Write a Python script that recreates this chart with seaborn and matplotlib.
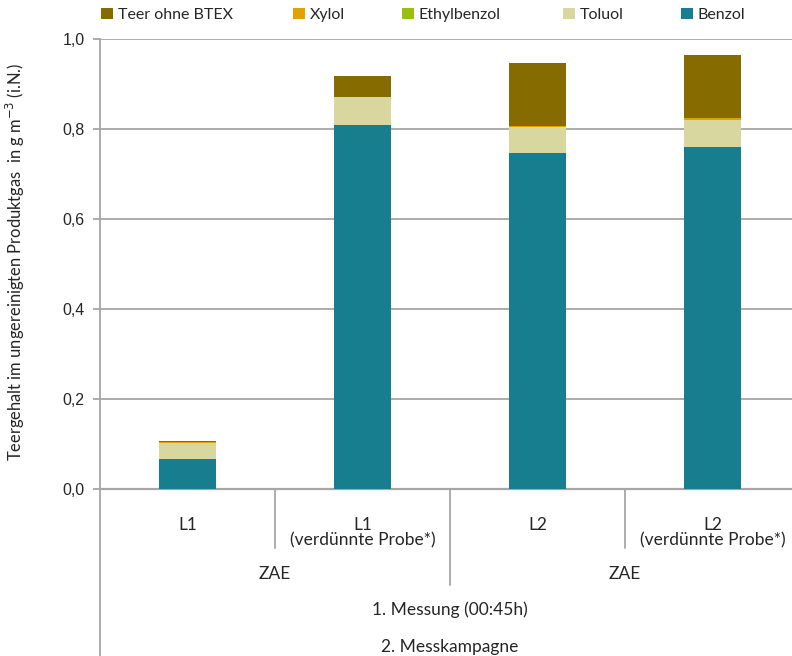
import matplotlib
matplotlib.use("Agg")
import matplotlib.pyplot as plt
import matplotlib.transforms as mtransforms
from matplotlib.patches import Patch
import seaborn as sns
import pandas as pd
import numpy as np

categories = ["L1", "L1\n(verdünnte Probe*)", "L2", "L2\n(verdünnte Probe*)"]
benzol = [0.066, 0.809, 0.747, 0.761]
toluol = [0.037, 0.061, 0.057, 0.060]
ethylbenzol = [0.000, 0.000, 0.000, 0.000]
xylol = [0.001, 0.001, 0.003, 0.003]
teer_ohne_btex = [0.003, 0.046, 0.139, 0.140]

series_names = ["Teer ohne BTEX", "Xylol", "Ethylbenzol", "Toluol", "Benzol"]
colors = {"Teer ohne BTEX": "#866C00", "Xylol": "#E3A200", "Ethylbenzol": "#99C010",
          "Toluol": "#D8D7A0", "Benzol": "#177E8F"}
# left edge of each legend marker, in pixels
legend_x = [101, 293, 402, 563, 681]

sns.set_theme(style="white")
plt.rcParams['font.family'] = ['Liberation Sans', 'DejaVu Sans']
cal = ["Lato", "DejaVu Sans"]

df = pd.DataFrame({"cat": categories, "Benzol": benzol, "Toluol": toluol,
                   "Ethylbenzol": ethylbenzol, "Xylol": xylol,
                   "Teer ohne BTEX": teer_ohne_btex})
# cumulative tops, bottom layer first
stack = ["Benzol", "Toluol", "Ethylbenzol", "Xylol", "Teer ohne BTEX"]
cum = df[stack].cumsum(axis=1)

fig = plt.figure(figsize=(7.92, 6.56), dpi=100)
ax = fig.add_axes([100 / 792, 1 - 489 / 656, 700 / 792, 450 / 656])

# draw from the top of the stack downwards so each layer covers the next
for name in reversed(stack):
    sns.barplot(x=df["cat"], y=cum[name], color=colors[name], width=0.33,
                saturation=1, ax=ax, zorder=3, edgecolor="none")

ax.set_xlim(-0.5, 3.5)
ax.set_ylim(0, 1.0)
ax.set_yticks(np.arange(0, 1.01, 0.2))
ax.set_yticklabels([f"{v:.1f}".replace(".", ",") for v in np.arange(0, 1.01, 0.2)],
                   fontsize=11.5)
ax.yaxis.grid(True, color="#A6A6A6", linewidth=1.3, zorder=0)
ax.set_axisbelow(True)
for s in ["top", "right"]:
    ax.spines[s].set_visible(False)
ax.spines["left"].set_color("#A6A6A6")
ax.spines["left"].set_linewidth(1.3)
ax.spines["bottom"].set_color("#A6A6A6")
ax.spines["bottom"].set_linewidth(1.6)
ax.tick_params(axis="y", left=True, length=5, color="#A6A6A6", width=1.3, pad=6)
ax.tick_params(axis="x", bottom=False, pad=14)
ax.set_xticks(range(4))
ax.set_xticklabels(categories, fontsize=12.5, family=cal, linespacing=1.0)
ax.set_xlabel("")
ax.set_ylabel("Teergehalt im ungereinigten Produktgas  in g m$^{-3}$ (i.N.)",
              fontsize=11.9, family=cal)
ax.yaxis.set_label_coords(-73 / 700, (489 - 262) / 450)

# multi-level category axis
trans = mtransforms.blended_transform_factory(ax.transData, ax.transAxes)
line_kw = dict(color="#A6A6A6", linewidth=1.3, transform=trans, clip_on=False)
ax.plot([0.5, 0.5], [0, -0.131], **line_kw)
ax.plot([2.5, 2.5], [0, -0.131], **line_kw)
ax.plot([1.5, 1.5], [0, -0.213], **line_kw)
ax.plot([-0.5, -0.5], [0, -0.40], **line_kw)

txt_kw = dict(transform=trans, ha="center", va="center", fontsize=12.5, family=cal)
ax.text(0.5, -0.189, "ZAE", **txt_kw)
ax.text(2.5, -0.189, "ZAE", **txt_kw)
ax.text(1.5, -0.268, "1. Messung (00:45h)", **txt_kw)
ax.text(1.5, -0.351, "2. Messkampagne", **txt_kw)

for name, x in zip(series_names, legend_x):
    fig.legend([Patch(facecolor=colors[name], edgecolor="none")], [name],
               loc="center left", bbox_to_anchor=(x / 792, 1 - 15 / 656),
               frameon=False, borderpad=0, borderaxespad=0,
               handlelength=0.75, handleheight=0.75, handletextpad=0.3,
               prop={"family": cal, "size": 11.5})

plt.savefig("out.png", dpi=100)
